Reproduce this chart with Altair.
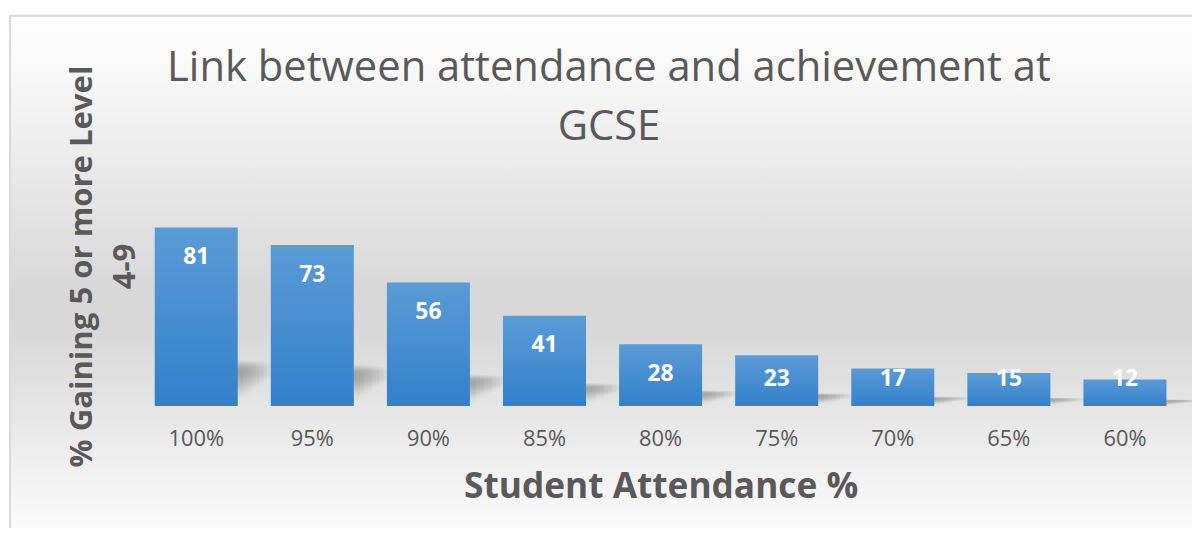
import altair as alt
import pandas as pd

attendance = ["100%", "95%", "90%", "85%", "80%", "75%", "70%", "65%", "60%"]
achievement = [81, 73, 56, 41, 28, 23, 17, 15, 12]
title_lines = ["Link between attendance and achievement at", "GCSE"]

df = pd.DataFrame({"attendance": attendance, "value": achievement})

FONT = "Open Sans"
GREY = "#595959"


def xscale():
    return alt.Scale(domain=attendance, paddingInner=0.285, paddingOuter=0.143, round=False)


def yscale():
    return alt.Scale(domain=[0, 100])


x_enc = alt.X(
    "attendance:N",
    sort=attendance,
    scale=xscale(),
    axis=alt.Axis(
        title="Student Attendance %",
        labelAngle=0,
        ticks=False,
        tickSize=0,
        domain=False,
        zindex=2,
        labelFont=FONT,
        labelFontSize=22,
        labelColor=GREY,
        labelBaseline="middle",
        labelPadding=33,
        titleFont=FONT,
        titleFontSize=35.5,
        titleFontWeight="bold",
        titleColor=GREY,
        titleBaseline="alphabetic",
        titleY=92,
    ),
)
y_enc = alt.Y(
    "value:Q",
    scale=yscale(),
    axis=alt.Axis(
        title=["% Gaining 5 or more Level", "4-9"],
        labels=False,
        ticks=False,
        domain=False,
        grid=False,
        zindex=2,
        titleFont=FONT,
        titleFontSize=31.3,
        titleFontWeight="bold",
        titleColor=GREY,
        titleAngle=270,
        titleAlign="center",
        titleBaseline="middle",
        titleLineHeight=43,
        titleX=-56,
        titleY=81,
    ),
)

background = alt.Chart(pd.DataFrame({"k": [0]})).mark_rect(
    fill=alt.Gradient(
        gradient="linear",
        stops=[
            alt.GradientStop(color="#ffffff", offset=0),
            alt.GradientStop(color="#f7f7f7", offset=0.12),
            alt.GradientStop(color="#d7d7d7", offset=0.52),
            alt.GradientStop(color="#d9d9d9", offset=0.6),
            alt.GradientStop(color="#ffffff", offset=1),
        ],
        x1=0, y1=0, x2=0, y2=1,
    ),
    stroke="#d9d9d9",
    strokeWidth=2,
).encode(
    x=alt.value(-129), x2=alt.value(1075), y=alt.value(-171), y2=alt.value(370)
)

title = alt.Chart(pd.DataFrame({"k": [0]})).mark_text(
    text=title_lines,
    font=FONT,
    fontSize=42,
    color=GREY,
    align="center",
    baseline="alphabetic",
    lineHeight=59,
).encode(x=alt.value(474), y=alt.value(-105))

shadow_gradient = alt.Gradient(
    gradient="linear",
    stops=[
        alt.GradientStop(color="rgba(110,110,110,0)", offset=0),
        alt.GradientStop(color="rgba(110,110,110,0.09)", offset=0.3),
        alt.GradientStop(color="rgba(110,110,110,0.08)", offset=0.7),
        alt.GradientStop(color="rgba(110,110,110,0)", offset=1),
    ],
    x1=0, y1=0, x2=0, y2=1,
)

# soft perspective shadow: several thin offset, sheared layers
shadow_layers = []
for i in range(8):
    off = 6 + 4 * i
    lo = 0.02 + 0.018 * i
    hi = 0.265 - 0.002 * i
    shadow_layers.append(
        alt.Chart(df).transform_calculate(
            s_lo=f"datum.value * {lo:.3f}", s_hi=f"datum.value * {hi:.3f}"
        ).mark_bar(xOffset=off, color=shadow_gradient).encode(
            x=alt.X("attendance:N", sort=attendance, scale=xscale(), axis=None),
            y=alt.Y("s_hi:Q", scale=yscale(), axis=None),
            y2="s_lo:Q",
        )
    )

bars = alt.Chart(df).mark_bar(
    color=alt.Gradient(
        gradient="linear",
        stops=[
            alt.GradientStop(color="#5b9bd6", offset=0),
            alt.GradientStop(color="#3380cb", offset=1),
        ],
        x1=0, y1=0, x2=0, y2=1,
    )
).encode(x=x_enc, y=y_enc)

labels = alt.Chart(df).transform_calculate(
    pos="max(datum.value - 13.5, 12.2)"
).mark_text(
    font=FONT, fontSize=23, fontWeight="bold", color="white", baseline="middle"
).encode(
    x=alt.X("attendance:N", sort=attendance, scale=xscale(), axis=None),
    y=alt.Y("pos:Q", scale=yscale(), axis=None),
    text=alt.Text("value:Q"),
)

chart = alt.layer(background, title, *shadow_layers, bars, labels).resolve_scale(
    x="independent", y="independent"
).properties(
    width=1052,
    height=222,
    padding={"left": 131, "top": 177, "right": 9, "bottom": 121},
    autosize=alt.AutoSizeParams(type="none"),
).configure_view(stroke=None).configure(background="white")

chart.save("out.html", embed_options={"renderer": "svg", "actions": False})
